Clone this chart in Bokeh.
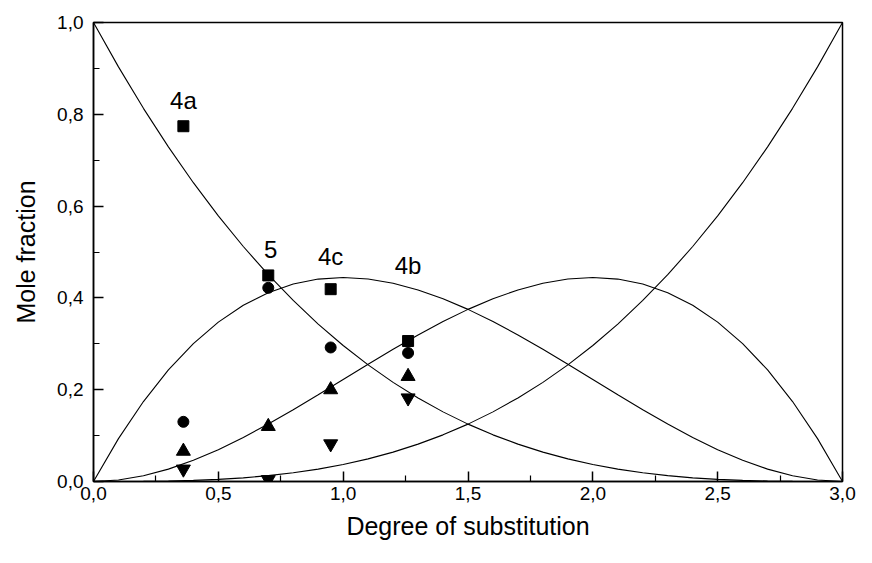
from bokeh.plotting import figure
from bokeh.models import Range1d, FixedTicker, CustomJSTickFormatter, Label
from bokeh.embed import file_html
from bokeh.resources import INLINE

# Theoretical curves at degree of substitution 0.0 ... 3.0 step 0.1
ds = [0.0, 0.1, 0.2, 0.3, 0.4, 0.5, 0.6, 0.7, 0.8, 0.9, 1.0, 1.1, 1.2, 1.3, 1.4, 1.5,
      1.6, 1.7, 1.8, 1.9, 2.0, 2.1, 2.2, 2.3, 2.4, 2.5, 2.6, 2.7, 2.8, 2.9, 3.0]
curve_unsub = [1.0, 0.9033, 0.8130, 0.7290, 0.6510, 0.5787, 0.5120, 0.4506, 0.3944, 0.3430,
               0.2963, 0.2540, 0.2160, 0.1820, 0.1517, 0.1250, 0.1016, 0.0814, 0.0640, 0.0493,
               0.0370, 0.0270, 0.0190, 0.0127, 0.0080, 0.0046, 0.0024, 0.0010, 0.0003, 0.0000, 0.0]
curve_mono = [0.0, 0.0934, 0.1742, 0.2430, 0.3004, 0.3472, 0.3840, 0.4114, 0.4302, 0.4410,
              0.4444, 0.4412, 0.4320, 0.4174, 0.3982, 0.3750, 0.3484, 0.3192, 0.2880, 0.2554,
              0.2222, 0.1890, 0.1564, 0.1252, 0.0960, 0.0694, 0.0462, 0.0270, 0.0124, 0.0032, 0.0]
curve_di = [0.0, 0.0032, 0.0124, 0.0270, 0.0462, 0.0694, 0.0960, 0.1252, 0.1564, 0.1890,
            0.2222, 0.2554, 0.2880, 0.3192, 0.3484, 0.3750, 0.3982, 0.4174, 0.4320, 0.4412,
            0.4444, 0.4410, 0.4302, 0.4114, 0.3840, 0.3472, 0.3004, 0.2430, 0.1742, 0.0934, 0.0]
curve_tri = [0.0, 0.0000, 0.0003, 0.0010, 0.0024, 0.0046, 0.0080, 0.0127, 0.0190, 0.0270,
             0.0370, 0.0493, 0.0640, 0.0814, 0.1016, 0.1250, 0.1517, 0.1820, 0.2160, 0.2540,
             0.2963, 0.3430, 0.3944, 0.4506, 0.5120, 0.5787, 0.6510, 0.7290, 0.8130, 0.9033, 1.0]

# Measured points
ds_meas = [0.36, 0.70, 0.95, 1.26]
squares = [0.774, 0.449, 0.419, 0.306]
circles = [0.130, 0.422, 0.292, 0.280]
triangles_up = [0.066, 0.120, 0.200, 0.229]
triangles_down = [0.027, 0.004, 0.082, 0.182]

# Point labels
label_text = ["4a", "5", "4c", "4b"]
label_x = [0.36, 0.71, 0.95, 1.26]
label_y = [0.83, 0.505, 0.49, 0.47]

x_ticks = [0.0, 0.5, 1.0, 1.5, 2.0, 2.5, 3.0]
x_minor = [0.25, 0.75, 1.25, 1.75, 2.25, 2.75]
y_ticks = [0.0, 0.2, 0.4, 0.6, 0.8, 1.0]
y_minor = [0.1, 0.3, 0.5, 0.7, 0.9]

FONT = "Liberation Sans"

p = figure(width=856, height=547, output_backend="svg", toolbar_location=None,
           x_range=Range1d(0, 3), y_range=Range1d(0, 1),
           min_border_left=93, min_border_right=14, min_border_top=22, min_border_bottom=66)
p.grid.visible = False
p.outline_line_color = "black"
p.outline_line_width = 1.5
p.background_fill_color = "white"
p.border_fill_color = "white"

fmt = CustomJSTickFormatter(code="return tick.toFixed(1).replace('.', ',');")

for ax, ticks, minor in ((p.xaxis[0], x_ticks, x_minor), (p.yaxis[0], y_ticks, y_minor)):
    ax.ticker = FixedTicker(ticks=ticks, minor_ticks=minor)
    ax.formatter = fmt
    ax.axis_line_width = 1.5
    ax.axis_line_color = "black"
    ax.major_tick_in = 10
    ax.major_tick_out = 0
    ax.minor_tick_in = 6
    ax.minor_tick_out = 0
    ax.major_tick_line_width = 1.5
    ax.minor_tick_line_width = 1.2
    ax.major_label_text_font = FONT
    ax.major_label_text_font_size = "19px"
    ax.major_label_text_color = "black"
    ax.axis_label_text_font = FONT
    ax.axis_label_text_font_size = "25px"
    ax.axis_label_text_font_style = "normal"
    ax.axis_label_text_color = "black"

p.xaxis.axis_label = "Degree of substitution"
p.yaxis.axis_label = "Mole fraction"
p.xaxis.major_label_standoff = 5
p.yaxis.major_label_standoff = 10
p.xaxis.axis_label_standoff = 9
p.yaxis.axis_label_standoff = 14

for curve in (curve_unsub, curve_mono, curve_di, curve_tri):
    p.line(ds, curve, line_color="black", line_width=1.1)

p.scatter(ds_meas, squares, marker="square", size=11, color="black")
p.scatter(ds_meas, circles, marker="circle", size=11, color="black")
p.scatter(ds_meas, triangles_up, marker="triangle", size=14, color="black")
p.scatter(ds_meas, triangles_down, marker="inverted_triangle", size=14, color="black")

for t, lx, ly in zip(label_text, label_x, label_y):
    p.add_layout(Label(x=lx, y=ly, text=t, text_font=FONT, text_font_size="24px",
                       text_align="center", text_baseline="middle", text_color="black"))

open("out.html", "w").write(file_html(p, INLINE))
